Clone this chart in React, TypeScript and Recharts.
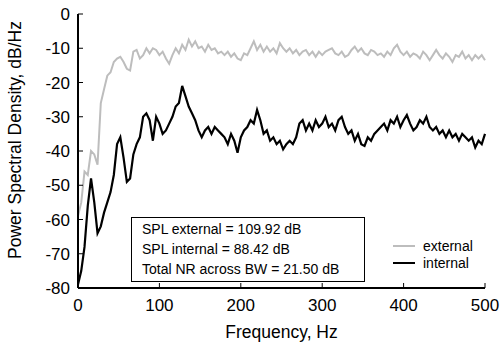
import React from 'react';
import { LineChart, Line, XAxis, YAxis } from 'recharts';

// PSD bins every 4 Hz, 0..500 Hz
const binStep = 4;

const external = [
  -59, -55, -46, -47, -40, -41, -44, -26, -22, -18, -17, -14, -13, -12.5, -14, -16,
  -16.5, -11, -10.5, -13, -12, -10, -11.5, -10, -10.5, -12, -11, -13, -14.5, -12, -10, -11.5,
  -9, -10.5, -7.5, -9.5, -8, -10, -9.5, -11, -9, -10.5, -10, -11.5, -11, -12, -11, -12.5,
  -11.5, -13, -13.5, -11.5, -12, -10, -8, -10.5, -9, -11, -9.5, -11, -10, -11.5, -8.5, -10,
  -11, -10, -11.5, -10.5, -12, -11, -10.5, -12, -11, -12.5, -11, -12, -11, -10.5, -10, -11.5,
  -12, -11, -12.5, -12, -10.5, -9.5, -11, -10, -11.5, -12, -10.5, -11, -12, -11.5, -12.5, -11,
  -12, -10, -9, -11, -12, -11, -12.5, -11.5, -12, -13, -11, -12, -13.5, -12, -10.5, -12,
  -13, -11.5, -12.5, -14, -12, -12.5, -11, -13, -12, -13.5, -12, -13, -12, -13.5,
];

const internal = [
  -79, -75, -68, -56, -48, -55, -64, -62, -58, -55, -52, -47, -38, -36, -42, -49,
  -48, -41, -38, -36, -30, -29, -31, -37, -30, -32, -35, -34, -32, -30, -27, -26,
  -21, -24, -27, -29, -31, -34, -36, -34, -33, -35, -33, -34, -35, -36, -38, -35,
  -37, -40.5, -36, -34, -33, -31, -32, -28, -31, -35, -34, -37, -36, -38, -37, -39.5,
  -38, -37, -38, -36, -32, -31, -34, -32, -34, -31, -33, -32, -30, -33, -32, -34,
  -31, -30, -33, -35, -34, -37, -35, -38, -38.5, -36, -37, -35, -34, -33, -32, -34,
  -31, -32, -30, -33, -31, -29.5, -32, -34, -33, -31, -32, -30, -33, -34, -33, -35,
  -34, -36, -34, -36, -35, -37, -35, -36, -37, -36, -39, -37, -38, -35,
];

const xTicks = [0, 100, 200, 300, 400, 500];
const yTicks = [0, -10, -20, -30, -40, -50, -60, -70, -80];

const summary = [
  'SPL external = 109.92 dB',
  'SPL internal = 88.42 dB',
  'Total NR across BW = 21.50 dB',
];

const series = [
  { name: 'external', color: '#bdbdbd' },
  { name: 'internal', color: '#000' },
];

const data = external.map((v, i) => ({ freq: i * binStep, external: v, internal: internal[i] }));

const FONT = '"Liberation Sans", Arial, Helvetica, sans-serif';

const BottomTick = ({ x, y, payload }: any) => (
  <g>
    <line x1={x} x2={x} y1={y} y2={y - 5} stroke="#000" strokeWidth={1} />
    <text x={x} y={y + 23} textAnchor="middle" fontSize={17} fill="#000" fontFamily={FONT}>{payload.value}</text>
  </g>
);
const TopTick = ({ x, y }: any) => <line x1={x} x2={x} y1={y} y2={y + 5} stroke="#000" strokeWidth={1} />;
const LeftTick = ({ x, y, payload }: any) => (
  <g>
    <line x1={x} x2={x + 5} y1={y} y2={y} stroke="#000" strokeWidth={1} />
    <text x={x - 8} y={y + 6} textAnchor="end" fontSize={17} fill="#000" fontFamily={FONT}>{payload.value}</text>
  </g>
);
const RightTick = ({ x, y }: any) => <line x1={x} x2={x - 5} y1={y} y2={y} stroke="#000" strokeWidth={1} />;

const YTitle = () => (
  <text transform="translate(21,140) rotate(-90)" textAnchor="middle" fontSize={17.5} fill="#000" fontFamily={FONT}>
    Power Spectral Density, dB/Hz
  </text>
);

export default function App() {
  return (
    <div style={{ position: 'absolute', left: 0, top: 0, width: 501, height: 344, background: '#fff' }}>
      <LineChart width={501} height={344} data={data} margin={{ top: 14, right: 16, left: 0, bottom: 0 }}>
        <XAxis dataKey="freq" type="number" domain={[0, 500]} ticks={xTicks} height={56}
          axisLine={{ stroke: '#000', strokeWidth: 2 }} tickLine={false} tickSize={0} tickMargin={0}
          tick={<BottomTick />}
          label={{ value: 'Frequency, Hz', position: 'insideBottom', offset: 6, fontSize: 17.5, fill: '#000', fontFamily: FONT }} />
        <XAxis xAxisId="top" orientation="top" dataKey="freq" type="number" domain={[0, 500]} ticks={xTicks} height={0}
          axisLine={{ stroke: '#000', strokeWidth: 1.5 }} tickLine={false} tickSize={0} tickMargin={0} tick={<TopTick />} />
        <YAxis type="number" domain={[-80, 0]} ticks={yTicks} width={78}
          axisLine={{ stroke: '#000', strokeWidth: 2 }} tickLine={false} tickSize={0} tickMargin={0}
          tick={<LeftTick />} label={<YTitle />} />
        <YAxis yAxisId="right" orientation="right" type="number" domain={[-80, 0]} ticks={yTicks} width={0}
          axisLine={{ stroke: '#000', strokeWidth: 1.5 }} tickLine={false} tickSize={0} tickMargin={0} tick={<RightTick />} />
        <Line dataKey="external" stroke="#bdbdbd" strokeWidth={2} dot={false} isAnimationActive={false} />
        <Line dataKey="internal" stroke="#000" strokeWidth={2.2} dot={false} isAnimationActive={false} />
      </LineChart>
      <div style={{
        position: 'absolute', left: 131, top: 217, width: 234, height: 65, boxSizing: 'border-box',
        border: '1px solid #000', background: '#fff', fontFamily: FONT, fontSize: 14, lineHeight: '20px',
        padding: '1px 0 0 10px', color: '#000', whiteSpace: 'nowrap',
      }}>
        {summary.map((s) => <div key={s}>{s}</div>)}
      </div>
      <div style={{ position: 'absolute', left: 393, top: 237, fontFamily: FONT, fontSize: 14, color: '#000' }}>
        {series.map((s) => (
          <div key={s.name} style={{ display: 'flex', alignItems: 'center', height: 17 }}>
            <span style={{ display: 'inline-block', width: 22, height: 0, borderTop: `2.5px solid ${s.color}`, marginRight: 8 }} />
            <span>{s.name}</span>
          </div>
        ))}
      </div>
    </div>
  );
}
